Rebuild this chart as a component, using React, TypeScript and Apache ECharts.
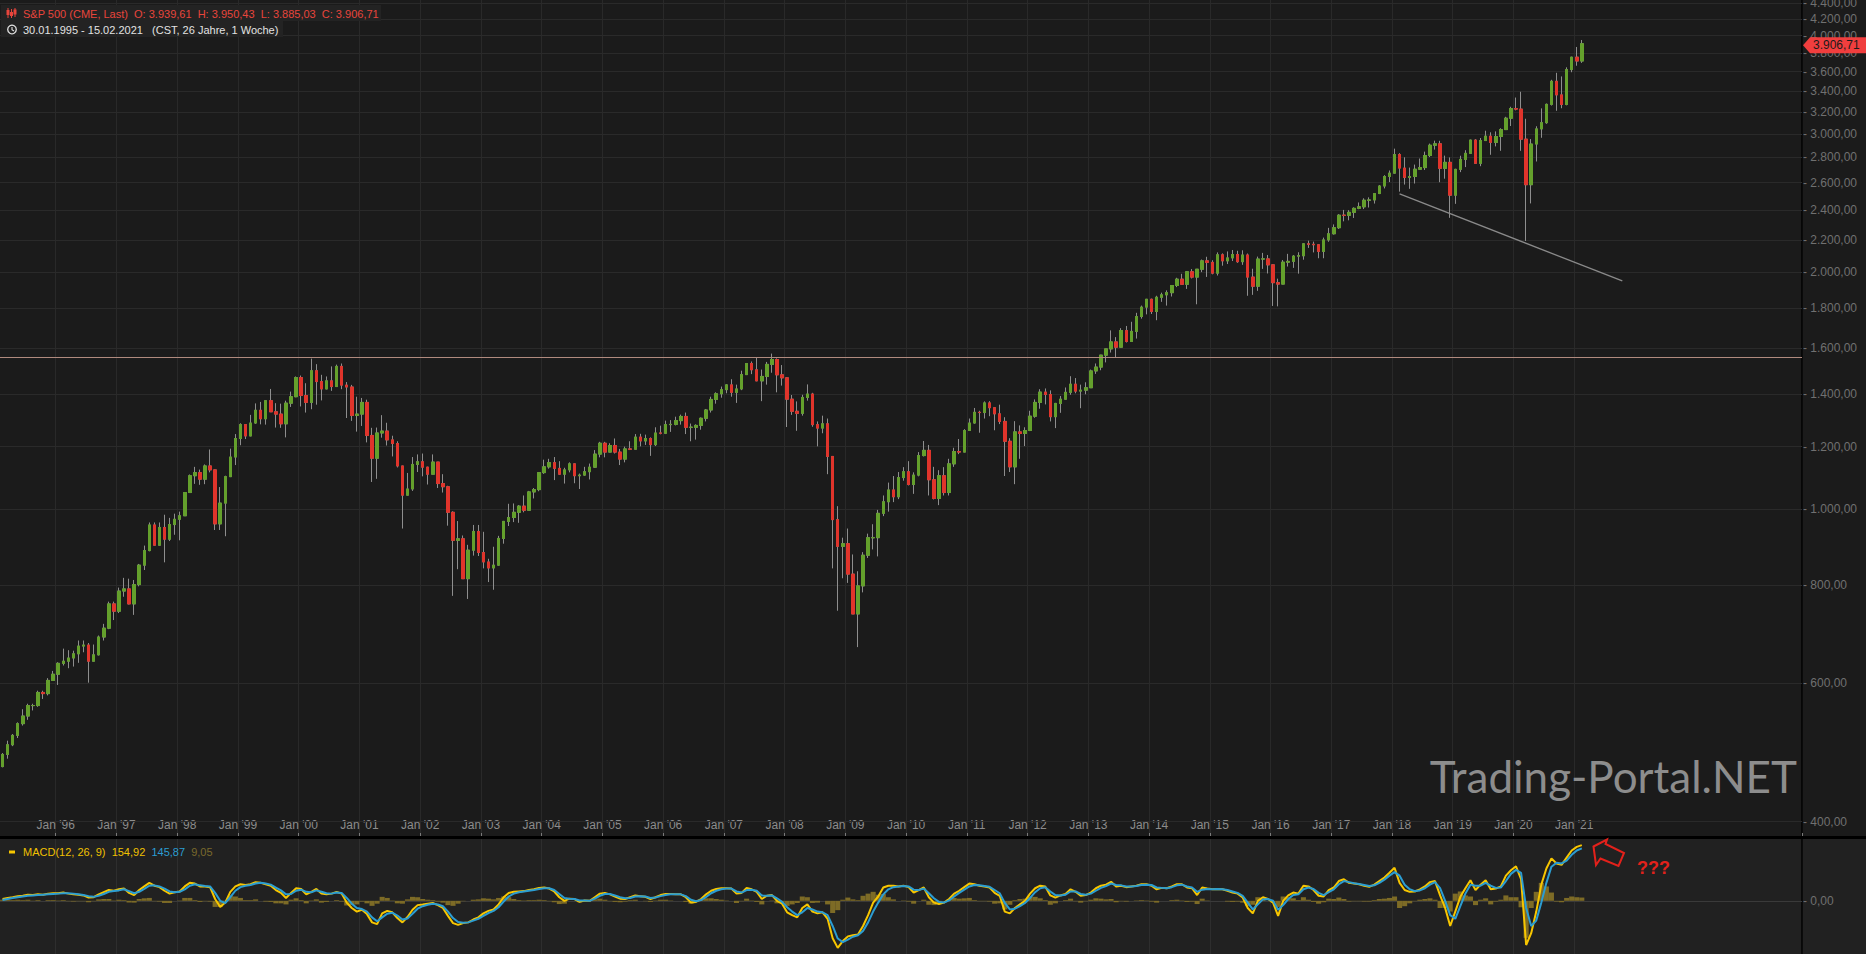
import React, { useEffect, useRef } from 'react';
import * as echarts from 'echarts';

// ---------- categories (monthly) ----------
const FIRST_MONTH = '1995-02';
const LAST_MONTH = '2024-09';
const LAST_LABEL_YEAR = 2021;

// ---------- monthly OHLC, Feb 1995 .. Feb 2021 ----------
const opens = [
  470, 487, 501, 515, 533, 545, 562, 562, 584, 582, 605,
  616, 636, 640, 646, 654, 669, 671, 640, 652, 687, 705, 757,
  741, 786, 791, 757, 801, 848, 885, 954, 899, 947, 915, 955,
  970, 980, 1049, 1102, 1112, 1091, 1134, 1121, 957, 1017, 1099, 1164,
  1229, 1280, 1238, 1286, 1335, 1302, 1373, 1329, 1320, 1283, 1363, 1389,
  1469, 1394, 1366, 1499, 1452, 1421, 1455, 1431, 1518, 1437, 1429, 1315,
  1320, 1366, 1240, 1160, 1249, 1256, 1224, 1211, 1134, 1041, 1060, 1139,
  1148, 1130, 1107, 1147, 1077, 1067, 990, 912, 916, 815, 886, 936,
  880, 856, 841, 848, 917, 964, 975, 990, 1008, 996, 1051, 1058,
  1112, 1131, 1145, 1126, 1107, 1121, 1141, 1102, 1104, 1115, 1130, 1174,
  1212, 1181, 1204, 1181, 1157, 1192, 1191, 1234, 1220, 1229, 1207, 1249,
  1248, 1280, 1281, 1295, 1311, 1270, 1270, 1277, 1304, 1336, 1378, 1401,
  1418, 1438, 1407, 1421, 1482, 1531, 1503, 1455, 1474, 1527, 1549, 1481,
  1468, 1379, 1331, 1323, 1386, 1400, 1280, 1267, 1283, 1166, 969, 896,
  903, 826, 735, 798, 873, 919, 919, 987, 1021, 1057, 1036, 1096,
  1115, 1074, 1104, 1169, 1187, 1089, 1031, 1102, 1049, 1141, 1183, 1181,
  1258, 1286, 1327, 1326, 1364, 1345, 1321, 1292, 1219, 1131, 1253, 1247,
  1258, 1312, 1366, 1408, 1398, 1310, 1362, 1379, 1407, 1441, 1412, 1416,
  1426, 1498, 1515, 1569, 1598, 1631, 1606, 1686, 1633, 1682, 1757, 1806,
  1848, 1783, 1859, 1872, 1884, 1924, 1960, 1931, 2003, 1972, 2018, 2068,
  2059, 1995, 2105, 2068, 2086, 2107, 2063, 2104, 1972, 1920, 2079, 2080,
  2044, 1940, 1932, 2060, 2065, 2097, 2099, 2174, 2171, 2168, 2126, 2199,
  2239, 2279, 2364, 2363, 2384, 2412, 2423, 2470, 2472, 2519, 2575, 2648,
  2674, 2824, 2714, 2641, 2648, 2705, 2718, 2816, 2902, 2914, 2712, 2760,
  2507, 2704, 2784, 2834, 2946, 2752, 2942, 2980, 2926, 2977, 3038, 3141,
  3231, 3226, 2954, 2585, 2912, 3044, 3100, 3271, 3500, 3363, 3270, 3622,
  3756, 3714,
];
const highs = [
  489, 507, 517, 535, 556, 565, 565, 587, 587, 609, 622,
  638, 664, 661, 660, 680, 680, 675, 672, 690, 714, 762, 762,
  794, 817, 815, 812, 851, 898, 961, 961, 961, 983, 974, 986,
  992, 1050, 1106, 1131, 1122, 1139, 1190, 1122, 1066, 1102, 1193, 1245,
  1285, 1282, 1317, 1362, 1368, 1373, 1421, 1363, 1361, 1373, 1410, 1474,
  1478, 1445, 1553, 1528, 1481, 1474, 1518, 1526, 1531, 1450, 1438, 1389,
  1384, 1377, 1268, 1269, 1316, 1287, 1239, 1219, 1134, 1111, 1164, 1173,
  1176, 1131, 1173, 1147, 1107, 1070, 993, 965, 925, 900, 954, 954,
  935, 864, 895, 924, 965, 1015, 1016, 1011, 1040, 1054, 1063, 1112,
  1155, 1158, 1164, 1150, 1128, 1146, 1141, 1109, 1131, 1142, 1188, 1217,
  1217, 1212, 1229, 1192, 1200, 1219, 1245, 1246, 1243, 1233, 1270, 1276,
  1295, 1297, 1310, 1318, 1326, 1284, 1281, 1307, 1340, 1389, 1407, 1431,
  1441, 1462, 1439, 1499, 1533, 1540, 1556, 1504, 1538, 1576, 1554, 1524,
  1471, 1396, 1370, 1397, 1440, 1405, 1292, 1314, 1303, 1167, 1008, 919,
  944, 875, 833, 881, 930, 956, 997, 1040, 1080, 1101, 1114, 1130,
  1150, 1113, 1181, 1220, 1206, 1131, 1120, 1130, 1158, 1196, 1227, 1263,
  1303, 1344, 1333, 1370, 1371, 1346, 1357, 1308, 1230, 1293, 1277, 1270,
  1333, 1378, 1420, 1423, 1415, 1364, 1392, 1427, 1475, 1467, 1439, 1449,
  1504, 1531, 1570, 1598, 1687, 1654, 1698, 1709, 1730, 1776, 1814, 1849,
  1851, 1867, 1884, 1897, 1925, 1968, 1991, 2006, 2019, 2019, 2076, 2093,
  2072, 2120, 2114, 2126, 2135, 2130, 2133, 2113, 2021, 2094, 2117, 2104,
  2046, 1963, 2073, 2111, 2103, 2121, 2178, 2194, 2188, 2169, 2214, 2278,
  2301, 2371, 2401, 2399, 2419, 2454, 2484, 2491, 2520, 2582, 2658, 2695,
  2873, 2835, 2801, 2718, 2742, 2791, 2848, 2916, 2941, 2940, 2815, 2800,
  2708, 2814, 2860, 2949, 2954, 2964, 3028, 3014, 3022, 3050, 3154, 3248,
  3337, 3394, 3136, 2955, 3068, 3233, 3279, 3515, 3588, 3550, 3646, 3760,
  3870, 3950,
];
const lows = [
  469, 481, 499, 511, 530, 539, 554, 560, 573, 579, 605,
  597, 632, 627, 630, 637, 657, 601, 640, 651, 680, 703, 722,
  737, 773, 756, 733, 797, 836, 883, 899, 898, 855, 910, 927,
  912, 980, 1048, 1076, 1073, 1075, 1113, 940, 940, 923, 1098, 1137,
  1205, 1227, 1244, 1283, 1281, 1280, 1328, 1269, 1268, 1233, 1348, 1387,
  1350, 1326, 1339, 1357, 1374, 1420, 1413, 1430, 1420, 1305, 1294, 1254,
  1275, 1215, 1082, 1092, 1232, 1204, 1166, 1129, 944, 1041, 1054, 1114,
  1100, 1074, 1107, 1063, 1049, 952, 775, 838, 815, 768, 872, 871,
  840, 807, 789, 847, 903, 951, 962, 960, 990, 996, 1031, 1053,
  1108, 1125, 1088, 1105, 1077, 1113, 1078, 1060, 1102, 1090, 1128, 1163,
  1163, 1180, 1176, 1137, 1146, 1188, 1191, 1201, 1206, 1168, 1202, 1244,
  1245, 1253, 1277, 1280, 1245, 1219, 1225, 1261, 1292, 1326, 1361, 1385,
  1403, 1389, 1364, 1416, 1482, 1484, 1454, 1371, 1439, 1490, 1407, 1435,
  1271, 1317, 1257, 1314, 1373, 1272, 1201, 1248, 1107, 840, 742, 816,
  805, 735, 667, 783, 866, 888, 870, 979, 992, 1020, 1029, 1086,
  1071, 1045, 1100, 1166, 1040, 1028, 1011, 1040, 1040, 1131, 1174, 1181,
  1257, 1284, 1250, 1303, 1312, 1259, 1282, 1101, 1114, 1075, 1158, 1202,
  1256, 1306, 1341, 1358, 1292, 1267, 1325, 1378, 1397, 1403, 1343, 1399,
  1426, 1485, 1501, 1536, 1581, 1560, 1605, 1628, 1633, 1647, 1746, 1768,
  1770, 1738, 1834, 1814, 1863, 1915, 1930, 1905, 1964, 1821, 2001, 1973,
  1988, 1981, 2039, 2049, 2067, 2056, 2044, 1867, 1872, 1894, 2020, 1993,
  1812, 1810, 1931, 2034, 2026, 1992, 2075, 2148, 2120, 2084, 2084, 2187,
  2234, 2271, 2322, 2329, 2345, 2406, 2407, 2418, 2446, 2515, 2557, 2605,
  2673, 2533, 2586, 2554, 2594, 2699, 2699, 2803, 2865, 2604, 2631, 2346,
  2444, 2682, 2722, 2830, 2750, 2729, 2940, 2822, 2892, 2855, 3035, 3070,
  3214, 2855, 2192, 2447, 2767, 2966, 3090, 3260, 3210, 3234, 3262, 3594,
  3663, 3694,
];
const closes = [
  487, 501, 515, 533, 545, 562, 562, 584, 582, 605, 616,
  636, 640, 646, 654, 669, 671, 640, 652, 687, 705, 757, 741,
  786, 791, 757, 801, 848, 885, 954, 899, 947, 915, 955, 970,
  980, 1049, 1102, 1112, 1091, 1134, 1121, 957, 1017, 1099, 1164, 1229,
  1280, 1238, 1286, 1335, 1302, 1373, 1329, 1320, 1283, 1363, 1389, 1469,
  1394, 1366, 1499, 1452, 1421, 1455, 1431, 1518, 1437, 1429, 1315, 1320,
  1366, 1240, 1160, 1249, 1256, 1224, 1211, 1134, 1041, 1060, 1139, 1148,
  1130, 1107, 1147, 1077, 1067, 990, 912, 916, 815, 886, 936, 880,
  856, 841, 848, 917, 964, 975, 990, 1008, 996, 1051, 1058, 1112,
  1131, 1145, 1126, 1107, 1121, 1141, 1102, 1104, 1115, 1130, 1174, 1212,
  1181, 1204, 1181, 1157, 1192, 1191, 1234, 1220, 1229, 1207, 1249, 1248,
  1280, 1281, 1295, 1311, 1270, 1270, 1277, 1304, 1336, 1378, 1401, 1418,
  1438, 1407, 1421, 1482, 1531, 1503, 1455, 1474, 1527, 1549, 1481, 1468,
  1379, 1331, 1323, 1386, 1400, 1280, 1267, 1283, 1166, 969, 896, 903,
  826, 735, 798, 873, 919, 919, 987, 1021, 1057, 1036, 1096, 1115,
  1074, 1104, 1169, 1187, 1089, 1031, 1102, 1049, 1141, 1183, 1181, 1258,
  1286, 1327, 1326, 1364, 1345, 1321, 1292, 1219, 1131, 1253, 1247, 1258,
  1312, 1366, 1408, 1398, 1310, 1362, 1379, 1407, 1441, 1412, 1416, 1426,
  1498, 1515, 1569, 1598, 1631, 1606, 1686, 1633, 1682, 1757, 1806, 1848,
  1783, 1859, 1872, 1884, 1924, 1960, 1931, 2003, 1972, 2018, 2068, 2059,
  1995, 2105, 2068, 2086, 2107, 2063, 2104, 1972, 1920, 2079, 2080, 2044,
  1940, 1932, 2060, 2065, 2097, 2099, 2174, 2171, 2168, 2126, 2199, 2239,
  2279, 2364, 2363, 2384, 2412, 2423, 2470, 2472, 2519, 2575, 2648, 2674,
  2824, 2714, 2641, 2648, 2705, 2718, 2816, 2902, 2914, 2712, 2760, 2507,
  2704, 2784, 2834, 2946, 2752, 2942, 2980, 2926, 2977, 3038, 3141, 3231,
  3226, 2954, 2585, 2912, 3044, 3100, 3271, 3500, 3363, 3270, 3622, 3756,
  3714, 3907,
];

// ---------- MACD(12,26,9) (monthly samples) ----------
const macdLine = [
  5, 8, 10, 13, 14, 17, 16, 18, 17, 20, 21,
  21, 23, 20, 18, 17, 15, 9, 10, 18, 24, 30, 28,
  32, 34, 22, 16, 30, 40, 50, 42, 38, 28, 20, 24,
  26, 40, 50, 48, 40, 40, 38, 5, -17, -5, 25, 40,
  46, 44, 46, 52, 50, 46, 42, 30, 22, 8, 22, 35,
  33, 18, 25, 33, 20, 18, 20, 25, 20, -5, -20, -30,
  -25, -37, -60, -65, -35, -28, -32, -48, -60, -45, -25, -12,
  -10, -8, -6, -12, -20, -42, -62, -67, -62, -60, -52, -46,
  -35, -28, -24, -10, 10, 22, 25, 26, 27, 30, 32, 36,
  37, 34, 26, 10, 0, 6, 5, -3, 1, 0, 10, 20,
  22, 18, 12, 6, 5, 10, 15, 13, 11, 5, 10, 16,
  19, 19, 18, 18, 10, -5, -3, 5, 18, 28, 33, 35,
  35, 34, 20, 22, 36, 32, 25, 5, 14, 16, 0, -8,
  -32, -40, -46, -20, -10, -30, -35, -32, -50, -104, -131, -112,
  -99, -96, -94, -70, -40, -5, 12, 37, 42, 42, 40, 42,
  38, 23, 30, 37, 10, -5, -9, -5, 5, 20, 28, 38,
  48, 46, 42, 40, 37, 22, 14, -30, -35, -20, -10, 0,
  20, 35, 42, 40, 15, 9, 15, 19, 32, 25, 14, 16,
  23, 35, 42, 45, 53, 40, 42, 38, 40, 42, 46, 46,
  42, 32, 36, 35, 40, 46, 46, 37, 35, 16, 37, 34,
  32, 33, 32, 28, 23, 20, 9, -20, -35, 0, 10, 5,
  -5, -42, 0, 15, 23, 20, 42, 40, 30, 14, 12, 30,
  37, 55, 60, 50, 48, 46, 42, 39, 45, 55, 65, 78,
  92, 50, 30, 25, 26, 32, 40, 52, 55, 15, -20, -70,
  -30, 11, 35, 57, 30, 45, 57, 32, 34, 40, 70, 85,
  96, 60, -123, -90, -30, 45, 90, 118, 104, 100, 120, 140,
  150, 154.92,
];
const signalLine = [
  2, 5, 8, 10, 12, 14, 15, 16, 17, 18, 19,
  20, 21, 21, 20, 18, 16, 13, 11, 14, 19, 25, 27,
  29, 32, 27, 21, 25, 33, 42, 43, 40, 34, 26, 24,
  25, 32, 42, 46, 43, 41, 40, 22, 0, -6, 10, 28,
  38, 42, 44, 48, 50, 48, 45, 37, 29, 18, 19, 28,
  31, 25, 24, 29, 25, 21, 20, 23, 22, 8, -8, -20,
  -23, -30, -46, -57, -46, -36, -33, -41, -52, -49, -36, -22,
  -15, -11, -8, -10, -15, -30, -48, -59, -61, -60, -55, -50,
  -42, -34, -28, -18, -2, 12, 20, 24, 26, 28, 30, 33,
  35, 35, 30, 19, 8, 6, 5, 1, 1, 0, 6, 14,
  19, 19, 15, 10, 7, 8, 12, 13, 12, 8, 9, 13,
  16, 18, 18, 18, 13, 3, -1, 2, 11, 21, 28, 32,
  34, 34, 26, 23, 30, 31, 28, 15, 14, 15, 7, -3,
  -18, -30, -40, -32, -20, -24, -30, -32, -40, -70, -105, -115,
  -108, -100, -96, -84, -60, -30, -5, 18, 32, 38, 40, 41,
  40, 31, 30, 34, 21, 7, -3, -5, 1, 12, 22, 31,
  40, 44, 43, 41, 39, 30, 21, -6, -24, -22, -15, -6,
  8, 24, 35, 38, 26, 16, 15, 17, 26, 26, 19, 17,
  20, 28, 36, 41, 48, 44, 43, 40, 40, 41, 44, 45,
  44, 37, 36, 35, 38, 43, 45, 40, 37, 25, 31, 33,
  32, 33, 32, 30, 26, 22, 14, -5, -24, -10, 4, 5,
  0, -25, -12, 5, 16, 18, 32, 37, 33, 22, 16, 24,
  32, 46, 55, 52, 49, 47, 44, 41, 43, 50, 59, 70,
  80, 70, 45, 32, 27, 29, 35, 45, 52, 35, 0, -40,
  -50, -15, 20, 45, 42, 42, 50, 42, 36, 37, 55, 75,
  86, 78, -20, -70, -55, -5, 50, 95, 106, 104, 112, 128,
  140, 145.87,
];

// ---------- axis ticks & annotations ----------
const priceTicks = [400, 600, 800, 1000, 1200, 1400, 1600, 1800, 2000, 2200, 2400, 2600, 2800, 3000, 3200, 3400, 3600, 3800, 4000, 4200, 4400];
const PRICE_MIN = 383.5;
const PRICE_MAX = 4441;
const MACD_MIN = -148;
const MACD_MAX = 172;
const LAST_PRICE = 3906.71;
const HORIZONTAL_LEVEL = 1561;
const TREND_START: [string, number] = ['2018-02', 2516];
const TREND_END: [string, number] = ['2021-10', 1950];

const HEADER_TITLE = 'S&P 500 (CME, Last)';
const HEADER_OHLC = ['O: 3.939,61', 'H: 3.950,43', 'L: 3.885,03', 'C: 3.906,71'];
const HEADER_RANGE = '30.01.1995 - 15.02.2021';
const HEADER_INFO = '(CST, 26 Jahre, 1 Woche)';
const MACD_TITLE = 'MACD(12, 26, 9)';
const MACD_VALUES = ['154,92', '145,87', '9,05'];
const WATERMARK = 'Trading-Portal.NET';

const FONT = '"Liberation Sans", Arial, sans-serif';
const MONTHS_DE = ['Jan', 'Feb', 'Mär', 'Apr', 'Mai', 'Jun', 'Jul', 'Aug', 'Sep', 'Okt', 'Nov', 'Dez'];

function buildMonths(first: string, last: string) {
  const out: string[] = [];
  let [y, m] = first.split('-').map(Number);
  const [ly, lm] = last.split('-').map(Number);
  while (y < ly || (y === ly && m <= lm)) {
    out.push(`${y}-${String(m).padStart(2, '0')}`);
    m++;
    if (m > 12) { m = 1; y++; }
  }
  return out;
}
const months = buildMonths(FIRST_MONTH, LAST_MONTH);

const fmtDE = (v: number) => {
  const neg = v < 0;
  const [i, d] = Math.abs(v).toFixed(2).split('.');
  return (neg ? '-' : '') + i.replace(/\B(?=(\d{3})+(?!\d))/g, '.') + ',' + d;
};

const isYearTick = (_i: number, value: string) => {
  const [y, m] = String(value).split('-').map(Number);
  return m === 1 && y <= LAST_LABEL_YEAR;
};
const fmtMonth = (value: string) => {
  const [y, m] = String(value).split('-').map(Number);
  return `${MONTHS_DE[m - 1]} '${String(y).slice(2)}`;
};

function buildOption() {
  const candles = opens.map((o, i) => [o, closes[i], lows[i], highs[i]]);
  const bodies = opens.map((o, i) => [o, closes[i], Math.min(o, closes[i]), Math.max(o, closes[i])]);
  const hist = macdLine.map((v, i) => +(v - signalLine[i]).toFixed(2));

  return {
    animation: false,
    backgroundColor: 'transparent',
    textStyle: { fontFamily: FONT },
    grid: [
      { left: 0, top: 0, width: 1802, height: 836, outerBoundsMode: 'none' },
      { left: 0, top: 839, width: 1802, height: 115, outerBoundsMode: 'none' },
    ],
    xAxis: [
      {
        type: 'category', gridIndex: 0, data: months, boundaryGap: true,
        axisLine: { show: false },
        axisTick: { show: true, inside: true, length: 3, interval: isYearTick, lineStyle: { color: '#7a7a7a' } },
        axisLabel: {
          show: true, inside: true, margin: 5, interval: isYearTick, formatter: fmtMonth,
          color: '#8c8c8c', fontSize: 12, fontFamily: FONT, padding: [0, 5, 0, 0],
        },
        splitLine: { show: true, interval: isYearTick, lineStyle: { color: '#292929', width: 1 } },
      },
      {
        type: 'category', gridIndex: 1, data: months, boundaryGap: true,
        axisLine: { show: false }, axisTick: { show: false }, axisLabel: { show: false },
        splitLine: { show: true, interval: isYearTick, lineStyle: { color: '#2e2e2e', width: 1 } },
      },
    ],
    yAxis: [
      {
        type: 'log', logBase: 10, gridIndex: 0, position: 'right', min: PRICE_MIN, max: PRICE_MAX,
        axisLine: { show: true, lineStyle: { color: '#000', width: 1.5 } },
        axisTick: { show: false }, axisLabel: { show: false }, splitLine: { show: false },
      },
      {
        type: 'value', gridIndex: 1, position: 'right', min: MACD_MIN, max: MACD_MAX,
        axisLine: { show: true, lineStyle: { color: '#000', width: 1.5 } },
        axisTick: { show: false }, axisLabel: { show: false }, splitLine: { show: false },
      },
    ],
    series: [
      {
        name: 'range', type: 'candlestick', xAxisIndex: 0, yAxisIndex: 0, data: candles,
        barWidth: 3, z: 2,
        itemStyle: { color: '#8e8e8e', color0: '#8e8e8e', borderColor: '#8e8e8e', borderColor0: '#8e8e8e', borderWidth: 1 },
        markLine: {
          silent: true, z: 1, symbol: ['none', 'none'], animation: false,
          lineStyle: { color: '#2a2a2a', width: 1, type: 'solid' },
          label: { show: true, position: 'end', distance: 1, color: '#707070', fontSize: 12, fontFamily: FONT },
          data: priceTicks.map((v) => ({ yAxis: v, label: { formatter: '- ' + fmtDE(v) } })),
        },
      },
      {
        name: 'S&P 500', type: 'candlestick', xAxisIndex: 0, yAxisIndex: 0, data: bodies,
        barWidth: 3, z: 3,
        itemStyle: { color: '#64a02c', color0: '#e0342b', borderColor: '#64a02c', borderColor0: '#e0342b', borderWidth: 1 },
        markLine: {
          silent: true, z: 4, symbol: ['none', 'none'], animation: false,
          label: { show: false },
          data: [
            { yAxis: HORIZONTAL_LEVEL, lineStyle: { color: '#b08a7e', width: 1, type: 'solid' } },
            [
              { coord: TREND_START, lineStyle: { color: '#8a8a8a', width: 1.3, type: 'solid' } },
              { coord: TREND_END },
            ],
          ],
        },
      },
      {
        name: 'Histogramm', type: 'bar', xAxisIndex: 1, yAxisIndex: 1, data: hist,
        barCategoryGap: '0%', z: 2,
        itemStyle: { color: '#7d6b26' },
        markLine: {
          silent: true, z: 1, symbol: ['none', 'none'], animation: false,
          lineStyle: { color: '#3a3a3a', width: 1, type: 'solid' },
          label: { show: true, position: 'end', distance: 1, color: '#707070', fontSize: 12, fontFamily: FONT, formatter: '- ' + fmtDE(0) },
          data: [{ yAxis: 0 }],
        },
      },
      {
        name: 'MACD', type: 'line', xAxisIndex: 1, yAxisIndex: 1, data: macdLine,
        symbol: 'none', z: 3, lineStyle: { color: '#f7c600', width: 2 },
      },
      {
        name: 'Signal', type: 'line', xAxisIndex: 1, yAxisIndex: 1, data: signalLine,
        symbol: 'none', z: 4, lineStyle: { color: '#2b9dd2', width: 2 },
      },
    ],
  };
}

function buildGraphics(yTag: number) {
  const red = '#e8453c';
  const white = '#e2e2e2';
  const ty = yTag + 1.5;
  return [
    // header boxes
    { type: 'rect', z: 50, shape: { x: 1, y: 5, width: 380, height: 16 }, style: { fill: '#232323' } },
    { type: 'rect', z: 50, shape: { x: 1, y: 21, width: 282, height: 16 }, style: { fill: '#232323' } },
    // candle icon
    { type: 'line', z: 51, shape: { x1: 8, y1: 8, x2: 8, y2: 18 }, style: { stroke: red, lineWidth: 1 } },
    { type: 'rect', z: 51, shape: { x: 6.5, y: 10, width: 3, height: 5 }, style: { fill: red } },
    { type: 'line', z: 51, shape: { x1: 11.5, y1: 9, x2: 11.5, y2: 18 }, style: { stroke: red, lineWidth: 1 } },
    { type: 'rect', z: 51, shape: { x: 10, y: 12, width: 3, height: 4 }, style: { fill: red } },
    { type: 'line', z: 51, shape: { x1: 15, y1: 8, x2: 15, y2: 17 }, style: { stroke: red, lineWidth: 1 } },
    { type: 'rect', z: 51, shape: { x: 13.5, y: 9.5, width: 3, height: 5 }, style: { fill: red } },
    {
      type: 'text', z: 51, x: 23, y: 13.5,
      style: { text: [HEADER_TITLE, ...HEADER_OHLC].join('  '), fill: red, fontSize: 11, fontFamily: FONT, verticalAlign: 'middle' },
    },
    // clock icon
    { type: 'circle', z: 51, shape: { cx: 12, cy: 29.5, r: 4.3 }, style: { fill: 'none', stroke: white, lineWidth: 1.3 } },
    { type: 'polyline', z: 51, shape: { points: [[12, 27], [12, 29.8], [14, 31]] }, style: { fill: 'none', stroke: white, lineWidth: 1.1 } },
    {
      type: 'text', z: 51, x: 23, y: 29.5,
      style: { text: HEADER_RANGE + '   ' + HEADER_INFO, fill: white, fontSize: 11, fontFamily: FONT, verticalAlign: 'middle' },
    },
    // MACD legend
    { type: 'rect', z: 51, shape: { x: 9, y: 850.5, width: 6, height: 3 }, style: { fill: '#f7c600' } },
    {
      type: 'text', z: 51, x: 23, y: 852,
      style: {
        text: `{y|${MACD_TITLE}}  {y|${MACD_VALUES[0]}}  {b|${MACD_VALUES[1]}}  {o|${MACD_VALUES[2]}}`,
        fontSize: 11, fontFamily: FONT, verticalAlign: 'middle',
        rich: {
          y: { fill: '#f0c000', fontSize: 11, fontFamily: FONT },
          b: { fill: '#2b9dd2', fontSize: 11, fontFamily: FONT },
          o: { fill: '#7a6a2c', fontSize: 11, fontFamily: FONT },
        },
      },
    },
    // watermark
    {
      type: 'text', z: 40, x: 1797, y: 776,
      style: { text: WATERMARK, fill: '#8d8d8d', fontSize: 44, fontFamily: 'Lato, "Open Sans", sans-serif', align: 'right', verticalAlign: 'middle' },
    },
    // last price tag
    {
      type: 'polygon', z: 100,
      shape: { points: [[1803, ty], [1810, ty - 8], [1866, ty - 8], [1866, ty + 8], [1810, ty + 8]] },
      style: { fill: '#f03e3e' },
    },
    {
      type: 'text', z: 101, x: 1813, y: ty,
      style: { text: fmtDE(LAST_PRICE), fill: '#1b1b1b', fontSize: 12, fontFamily: FONT, verticalAlign: 'middle' },
    },
    // red arrow annotation + ???
    {
      type: 'polygon', z: 100,
      shape: { points: [[1593.5, 846.5], [1607, 839.5], [1605.5, 844], [1624, 853], [1618.5, 866], [1600.5, 858.5], [1596, 865]] },
      style: { fill: 'none', stroke: '#e3211b', lineWidth: 2 },
    },
    {
      type: 'text', z: 100, x: 1637, y: 868,
      style: { text: '???', fill: '#e3211b', fontSize: 18, fontWeight: 'bold', fontFamily: FONT, verticalAlign: 'middle' },
    },
  ];
}

export default function App() {
  const ref = useRef<HTMLDivElement>(null);
  useEffect(() => {
    if (!ref.current) return;
    const chart = echarts.init(ref.current, undefined, { renderer: 'svg' });
    chart.setOption(buildOption() as any);
    const yTag = chart.convertToPixel({ yAxisIndex: 0 } as any, LAST_PRICE) as unknown as number;
    chart.setOption({ graphic: buildGraphics(yTag) } as any);
    return () => chart.dispose();
  }, []);
  return (
    <div
      ref={ref}
      style={{
        position: 'absolute', left: 0, top: 0, width: 1866, height: 954,
        background: 'linear-gradient(to bottom, #1b1b1b 0px, #1b1b1b 836px, #000 836px, #000 839px, #212121 839px, #212121 954px)',
      }}
    />
  );
}
